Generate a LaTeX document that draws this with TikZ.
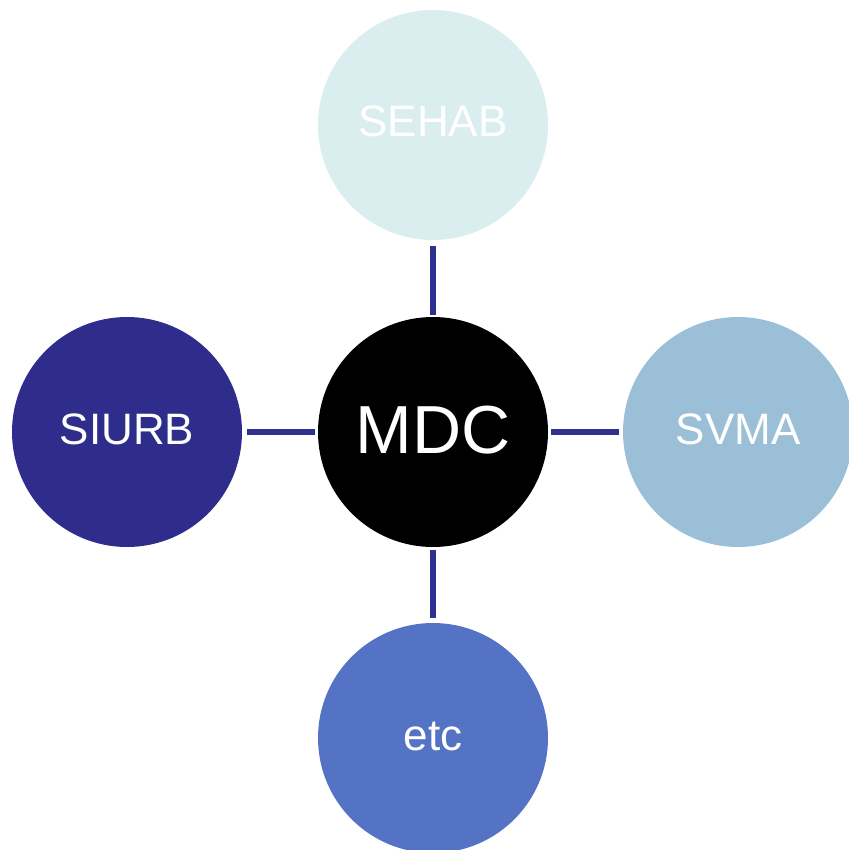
\documentclass[tikz,border=0pt]{standalone}
\usepackage{fontspec}
\setmainfont{Liberation Sans}
\definecolor{cSehab}{HTML}{DAEDEF}
\definecolor{cSiurb}{HTML}{2E2D8B}
\definecolor{cSvma}{HTML}{9ABFD7}
\definecolor{cEtc}{HTML}{5473C4}
\definecolor{cLine}{HTML}{2E3192}
\begin{document}
\begin{tikzpicture}[x=1pt,y=-1pt,
  bubble/.style={circle,minimum size=230pt,inner sep=0pt,text=white,
    font=\fontsize{44}{52}\selectfont,text height=24pt,text depth=0pt},
  hub/.style={bubble,fill=black,font=\fontsize{68}{80}\selectfont,text height=42pt},
  link/.style={draw=cLine,line width=5.5pt}]
\useasboundingbox (0,0) rectangle (848,850);
\node[hub] (mdc) at (433,432) {MDC};
\node[bubble,fill=cSehab] (sehab) at (433,125) {SEHAB};
\node[bubble,fill=cSiurb] (siurb) at (127,432) {SIURB};
\node[bubble,fill=cSvma] (svma) at (738,432) {SVMA};
\node[bubble,fill=cEtc] (etc) at (433,738) {etc};
\draw[link,shorten <=6pt,shorten >=2pt] (sehab) -- (mdc);
\draw[link,shorten <=5pt,shorten >=3pt] (siurb) -- (mdc);
\draw[link,shorten <=3pt,shorten >=4pt] (mdc) -- (svma);
\draw[link,shorten <=3pt,shorten >=5pt] (mdc) -- (etc);
\end{tikzpicture}
\end{document}
